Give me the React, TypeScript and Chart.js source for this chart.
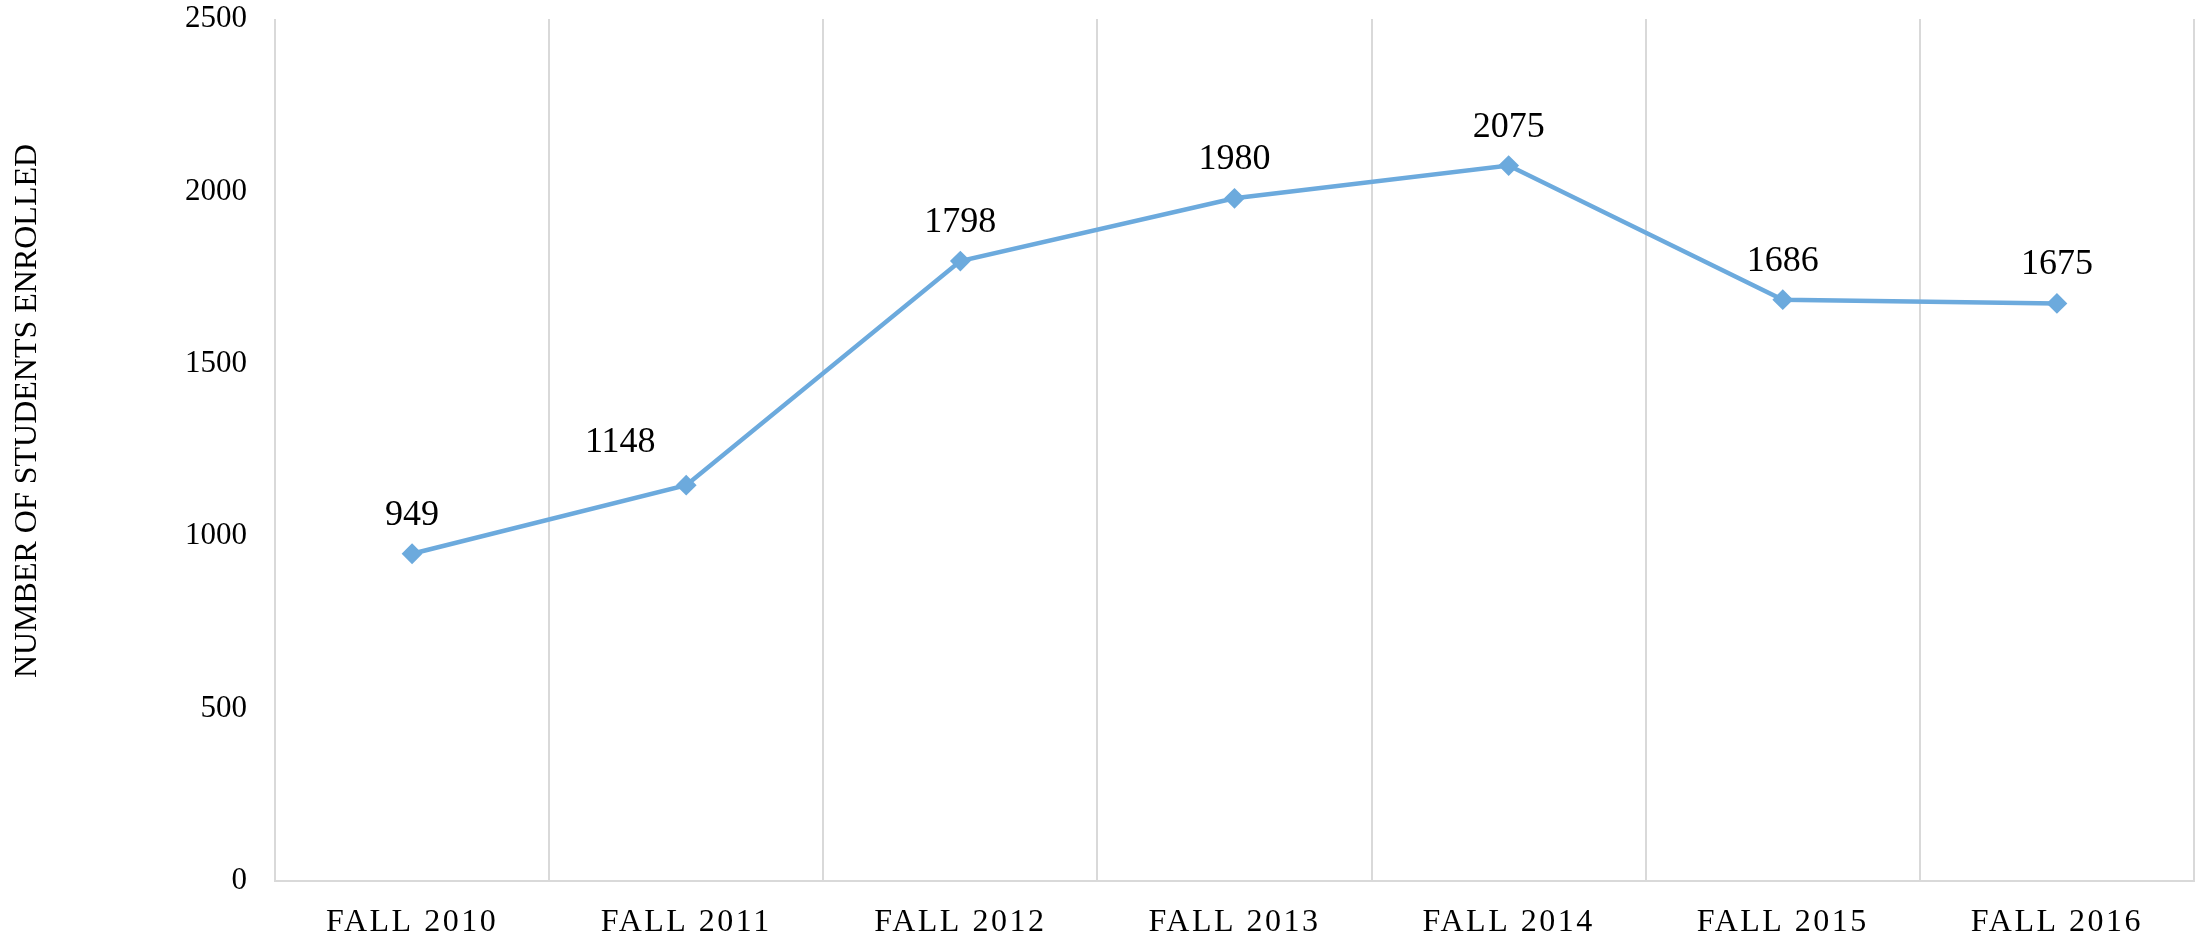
import React, { useEffect, useRef } from "react";
import { Chart, registerables } from "chart.js";

Chart.register(...registerables);

const categories = ["FALL 2010", "FALL 2011", "FALL 2012", "FALL 2013", "FALL 2014", "FALL 2015", "FALL 2016"];
const enrolled = [949, 1148, 1798, 1980, 2075, 1686, 1675];
const yTicks = [0, 500, 1000, 1500, 2000, 2500];
const yTitle = "NUMBER OF STUDENTS ENROLLED";

const SERIF = "'Liberation Serif', 'Times New Roman', Times, serif";
const LINE_COLOR = "#6CAADD";
const GRID_COLOR = "#D9D9D9";

// per-label nudges (pixels) for the data labels
const labelNudge: [number, number][] = [
  [0, 0],
  [-66, -4],
  [0, 0],
  [0, 0],
  [0, 0],
  [0, 0],
  [0, 0],
];

const dataLabelPlugin = {
  id: "dataLabels",
  afterDatasetsDraw(chart: any) {
    const ctx = chart.ctx;
    const meta = chart.getDatasetMeta(0);
    const ds = chart.data.datasets[0];
    ctx.save();
    ctx.font = `36px ${SERIF}`;
    ctx.fillStyle = "#000000";
    ctx.textAlign = "center";
    ctx.textBaseline = "alphabetic";
    meta.data.forEach((pt: any, i: number) => {
      const [dx, dy] = labelNudge[i] || [0, 0];
      ctx.fillText(String(ds.data[i]), pt.x + dx, pt.y - 29 + dy);
    });
    ctx.restore();
  },
};

const yTitlePlugin = {
  id: "yTitle",
  afterDraw(chart: any) {
    const ctx = chart.ctx;
    ctx.save();
    ctx.translate(28, 411);
    ctx.rotate(-Math.PI / 2);
    ctx.font = `32px ${SERIF}`;
    ctx.fillStyle = "#000000";
    ctx.textAlign = "center";
    ctx.textBaseline = "middle";
    ctx.fillText(yTitle, 0, 0);
    ctx.restore();
  },
};

const spacingPlugin = {
  id: "xLetterSpacing",
  afterLayout(chart: any) {
    const s = chart.scales.x;
    if (s && !s.__spaced) {
      const orig = s.drawLabels.bind(s);
      s.drawLabels = (area: any) => {
        const ctx = chart.ctx;
        ctx.save();
        (ctx as any).letterSpacing = "2.5px";
        orig(area);
        ctx.restore();
      };
      s.__spaced = true;
    }
  },
};

export default function App() {
  const ref = useRef<HTMLCanvasElement | null>(null);

  useEffect(() => {
    document.body.style.margin = "0";
    if (!ref.current) return;
    const chart = new Chart(ref.current, {
      type: "line",
      data: {
        labels: categories,
        datasets: [
          {
            data: enrolled,
            borderColor: LINE_COLOR,
            backgroundColor: LINE_COLOR,
            borderWidth: 4.5,
            pointStyle: "rectRot",
            pointRadius: 9,
            pointBorderWidth: 2,
            pointBackgroundColor: LINE_COLOR,
            pointBorderColor: LINE_COLOR,
            tension: 0,
            fill: false,
          },
        ],
      },
      options: {
        animation: false,
        responsive: false,
        maintainAspectRatio: false,
        layout: { padding: { left: 0, right: 5, top: 19, bottom: 0 } },
        plugins: {
          legend: { display: false },
          tooltip: { enabled: false },
          title: { display: false },
        },
        scales: {
          x: {
            type: "category",
            offset: true,
            grid: {
              display: true,
              offset: true,
              color: GRID_COLOR,
              lineWidth: 2,
              drawTicks: false,
            },
            border: { display: true, color: GRID_COLOR, width: 2 },
            ticks: {
              color: "#000000",
              font: { family: SERIF, size: 32 },
              padding: 22,
              maxRotation: 0,
              autoSkip: false,
            },
            afterFit(scale: any) {
              scale.height = 61;
              scale.paddingLeft = 0;
              scale.paddingRight = 0;
            },
          },
          y: {
            min: 0,
            max: 2500,
            afterBuildTicks(scale: any) {
              scale.ticks = yTicks.map((v) => ({ value: v }));
            },
            grid: { display: false, drawTicks: false },
            border: { display: false },
            ticks: {
              color: "#000000",
              font: { family: SERIF, size: 31 },
              padding: 28,
              callback: (v: any) => String(v),
            },
            afterFit(scale: any) {
              scale.width = 275;
              scale.paddingTop = 0;
              scale.paddingBottom = 0;
            },
          },
        },
      },
      plugins: [dataLabelPlugin, yTitlePlugin, spacingPlugin],
    });
    return () => chart.destroy();
  }, []);

  return (
    <div style={{ position: "fixed", left: 0, top: 0, width: 2205, height: 942, background: "#ffffff" }}>
      <canvas ref={ref} width={2205} height={942} style={{ width: 2205, height: 942, display: "block" }} />
    </div>
  );
}
